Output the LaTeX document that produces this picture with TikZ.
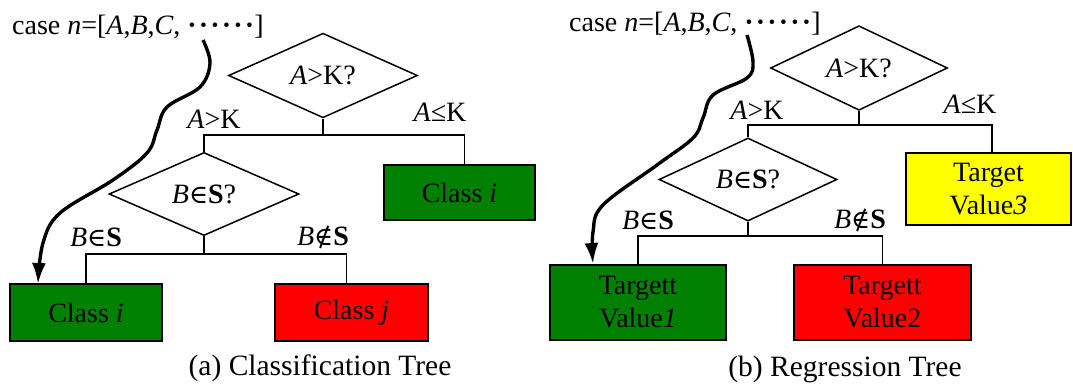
\documentclass[tikz,border=0pt]{standalone}
\usepackage{fontspec}
\setmainfont{Liberation Serif}
\newfontfamily\symf{DejaVu Serif}[Scale=0.92]
\usetikzlibrary{shapes.geometric,arrows.meta}
\definecolor{boxgreen}{RGB}{0,128,0}
\definecolor{boxred}{RGB}{255,0,0}
\definecolor{boxyellow}{RGB}{255,255,0}
\newcommand{\mydots}{\textbf{·}\kern2.2pt\textbf{·}\kern2.2pt\textbf{·}\kern2.2pt\textbf{·}\kern2.2pt\textbf{·}\kern2.2pt\textbf{·}}
\newcommand{\myin}{{\symf ∈}}
\newcommand{\mynotin}{{\symf ∉}}
\begin{document}
\begin{tikzpicture}[x=1pt,y=-1pt,
  every node/.style={font=\rmfamily\fontsize{28}{33}\selectfont, inner sep=0pt},
  test/.style={draw, diamond, line width=1.5pt},
  leaf/.style={draw, rectangle, line width=1.8pt, align=center},
  tree/.style={line width=1.5pt},
  flow/.style={line width=3.4pt, -{Latex[length=21pt,width=14pt]}},
  lbl/.style={},
  capt/.style={font=\rmfamily\fontsize{29.5}{33}\selectfont}]
\useasboundingbox (0,0) rectangle (1073,383);

% ---------- (a) classification tree ----------
\node[anchor=base west] (case1) at (12,34) {case \textit{n}=[\textit{A},\textit{B},\textit{C}, \mydots]};
\node[test, minimum width=189pt, minimum height=71pt] (d1) at (323,75.5) {\textit{A}>K?};
\node[test, minimum width=190pt, minimum height=72pt] (d2) at (204,194) {\textit{B}\myin\textbf{S}?};
\node[leaf, fill=boxgreen, minimum width=151pt, minimum height=55pt] (c1) at (459.5,192.5) {Class \textit{i}};
\node[leaf, fill=boxgreen, minimum width=152pt, minimum height=57pt] (c2) at (86,312.5) {Class \textit{i}};
\node[leaf, fill=boxred, minimum width=153pt, minimum height=57pt] (c3) at (351.5,312.5) {Class \textit{j}};
\coordinate (h1) at (323,135);
\coordinate (h2) at (204,254);
\draw[tree] (d1.south) -- (h1);
\draw[tree] (h1) -| (d2.north);
\draw[tree] (h1) -| ([xshift=5pt]c1.north);
\draw[tree] (d2.south) -- (h2);
\draw[tree] (h2) -| (c2.north);
\draw[tree] (h2) -| ([xshift=-5pt]c3.north);
\node[lbl] (la1) at (214,119) {\textit{A}>K};
\node[lbl] (la2) at (440,112) {\textit{A}≤K};
\node[lbl] (la3) at (96,237) {\textit{B}\myin\textbf{S}};
\node[lbl] (la4) at (323,237) {\textit{B}\mynotin\textbf{S}};
\node[capt] (cap1) at (320,368) {(a) Classification Tree};
\coordinate (s1) at (203,40);
\coordinate (e1) at (38,284);
\draw[flow] plot[smooth, tension=0.6] coordinates {(s1) (210,63) (200,87) (167,107) (157,130) (147,153) (113,180) (60,213) (43,243) (e1)};

% ---------- (b) regression tree ----------
\node[anchor=base west] (case2) at (569,31) {case \textit{n}=[\textit{A},\textit{B},\textit{C}, \mydots]};
\node[test, minimum width=177pt, minimum height=66pt] (d3) at (859,68) {\textit{A}>K?};
\node[test, minimum width=178pt, minimum height=65pt] (d4) at (748,179.5) {\textit{B}\myin\textbf{S}?};
\node[leaf, fill=boxyellow, minimum width=165pt, minimum height=72pt] (c4) at (988.5,189) {Target\\Value\textit{3}};
\node[leaf, fill=boxgreen, minimum width=176pt, minimum height=75pt] (c5) at (638,302.5) {Targett\\Value\textit{1}};
\node[leaf, fill=boxred, minimum width=177pt, minimum height=75pt] (c6) at (882.5,302.5) {Targett\\Value2};
\coordinate (h3) at (859,125);
\coordinate (h4) at (748,236);
\draw[tree] (d3.south) -- (h3);
\draw[tree] (h3) -| (d4.north);
\draw[tree] (h3) -| ([xshift=3.5pt]c4.north);
\draw[tree] (d4.south) -- (h4);
\draw[tree] (h4) -| (c5.north);
\draw[tree] (h4) -| (c6.north);
\node[lbl] (lb1) at (757,110) {\textit{A}>K};
\node[lbl] (lb2) at (970,104) {\textit{A}≤K};
\node[lbl] (lb3) at (648,220) {\textit{B}\myin\textbf{S}};
\node[lbl] (lb4) at (860,220) {\textit{B}\mynotin\textbf{S}};
\node[capt] (cap2) at (845,369) {(b) Regression Tree};
\coordinate (s2) at (747,35);
\coordinate (e2) at (593,264);
\draw[flow] plot[smooth, tension=0.6] coordinates {(s2) (753,62) (747,78) (713,95) (703,118) (693,138) (657,165) (603,205) (593,232) (e2)};
\end{tikzpicture}
\end{document}
